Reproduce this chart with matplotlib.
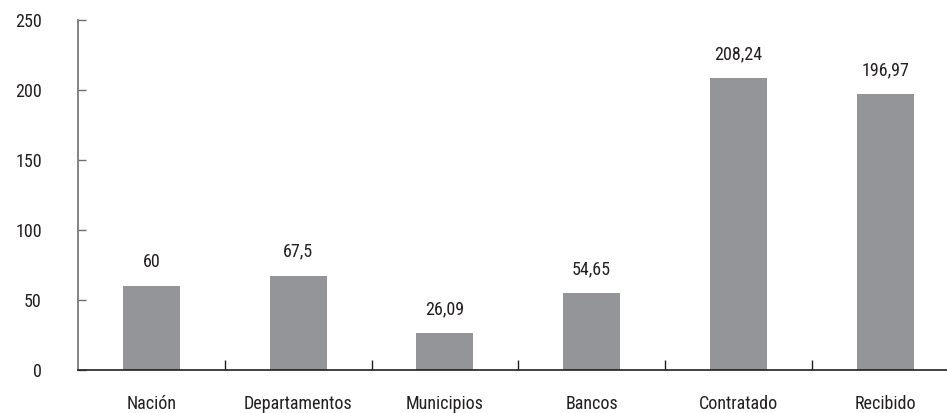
import matplotlib
matplotlib.use("Agg")
import matplotlib.pyplot as plt
from matplotlib import font_manager

categories = ["Nación", "Departamentos", "Municipios", "Bancos", "Contratado", "Recibido"]
values = [60, 67.5, 26.09, 54.65, 208.24, 196.97]
value_labels = ["60", "67,5", "26,09", "54,65", "208,24", "196,97"]
y_ticks = [0, 50, 100, 150, 200, 250]

installed = {f.name for f in font_manager.fontManager.ttflist}
family = [f for f in ["Liberation Sans Narrow", "Roboto Condensed", "Liberation Sans"] if f in installed]
plt.rcParams["font.family"] = family + ["DejaVu Sans"]

FS = 13

fig = plt.figure(figsize=(9.47, 4.13), dpi=100)
ax = fig.add_axes([78 / 947, 43 / 413, 880.5 / 947, 350 / 413])

x = list(range(len(categories)))
ax.bar(x, values, width=0.39, color="#939598", zorder=2)

for xi, v, lab in zip(x, values, value_labels):
    ax.annotate(lab, (xi, v), xytext=(0, 11), textcoords="offset points",
                ha="center", va="bottom", fontsize=FS, color="#231f20")

ax.set_xlim(-0.5, len(categories) - 0.5)
ax.set_ylim(0, 250)
ax.set_yticks(y_ticks)
ax.set_yticklabels([str(t) for t in y_ticks])
ax.set_xticks(x)
ax.set_xticklabels(categories)
ax.set_xticks([i + 0.5 for i in range(len(categories) - 1)], minor=True)

ax.tick_params(axis="y", direction="in", length=6, width=1, color="#6d6e71",
               pad=26, labelsize=FS, labelcolor="#231f20")
ax.tick_params(axis="x", which="major", length=0, pad=18, labelsize=FS, labelcolor="#231f20")
ax.tick_params(axis="x", which="minor", direction="in", length=7, width=1, color="#231f20")

for s in ["top", "right"]:
    ax.spines[s].set_visible(False)
ax.spines["left"].set_color("#6d6e71")
ax.spines["left"].set_linewidth(1.2)
ax.spines["bottom"].set_color("#231f20")
ax.spines["bottom"].set_linewidth(1.2)

fig.savefig("out.png", dpi=100)
